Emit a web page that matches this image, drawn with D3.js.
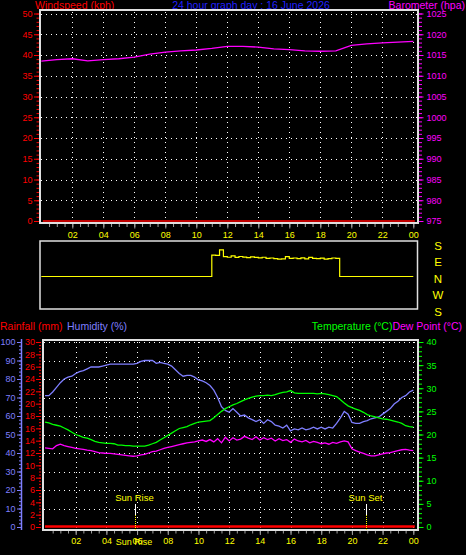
<!DOCTYPE html>
<html><head><meta charset="utf-8">
<script src="https://cdn.jsdelivr.net/npm/d3@7"></script>
<style>
body{margin:0;background:#000}
svg{display:block;background:#000}
text{font-family:"Liberation Sans",Arial,sans-serif}
</style>
</head><body>
<svg id="c" width="466" height="555"></svg>
<script>
// ---------- DATA ----------
const hours = d3.range(0, 24.001, 0.25); // 15-minute samples, 00:00 .. 24:00
const humidity = [
71,71,73,75.5,78, 80,81,81.5,83,84, 84.5,85.5,86.5,86.5,86.5, 87,87.5,88,88,88,
88,88,88,88,88.5, 89.5,90,90,90,88.5, 89,88.5,88,87,85, 83,81.5,82,82,81,
79.5,79,78,76.5,74, 70,65,63,62,64, 62,60,60.5,59,58, 57,58,56,58,57,
55,54.5,53.5,55,52, 53,52.5,53.5,52.5,53, 54,53,54,53,54, 53.5,56,59,62.5,61,
56.5,56,56,57,57.5, 58.5,59,59.5,61,62.5, 64,66.5,68,70,71, 73,74];
const temperature = [
22.7,22.5,22.2,22.0,21.8, 21.4,21.0,20.5,20.0,19.7, 19.4,19.2,18.9,18.5,18.3, 18.2,18.1,18.1,18.0,17.7,
17.7,17.6,17.6,17.5,17.5, 17.5,17.5,17.7,18.0,18.3, 18.8,19.3,19.8,20.3,20.8, 21.3,21.5,21.7,22.1,22.4,
22.7,22.8,22.9,23.0,23.6, 24.3,25.0,25.6,26.0,26.4, 26.7,27.1,27.5,27.8,28.1, 28.3,28.4,28.4,28.5,28.4,
28.6,28.9,29.1,29.2,29.5, 29.0,28.9,28.9,28.9,28.9, 28.9,28.8,28.9,28.8,28.6, 28.4,28.2,27.5,26.8,26.2,
25.8,25.5,25.2,24.8,24.3, 24.0,23.8,23.6,23.4,23.3, 23.1,22.9,22.7,22.4,21.9, 21.7,21.6];
const dewPoint = [
17.1,17.0,16.9,17.6,17.9, 17.6,17.4,17.2,17.0,16.9, 16.8,16.6,16.5,16.3,16.1, 16.0,15.9,15.9,15.8,15.7,
15.6,15.5,15.4,15.3,15.4, 15.6,15.7,16.0,16.3,16.4, 16.7,17.0,17.2,17.4,17.6, 17.8,18.0,18.2,18.3,18.4,
18.6,18.8,18.5,18.9,18.4, 19.1,18.2,19.4,18.6,19.3, 18.8,19.0,19.6,19.2,18.9, 19.5,18.8,19.3,18.9,19.2,
18.6,19.1,18.7,18.9,18.3, 19.0,18.6,18.4,18.7,18.2, 18.5,18.3,18.0,18.2,17.9, 18.3,18.1,18.4,18.6,18.4,
16.9,16.5,16.2,15.9,15.6, 15.4,15.4,15.6,15.8,16.0, 16.1,16.3,16.5,16.7,16.8, 16.6,16.5];
// wind direction in degrees (0 = N, 90 = E, 180 = S, -90 = W)
const windDir = [
0,0,0,0,0, 0,0,0,0,0, 0,0,0,0,0, 0,0,0,0,0,
0,0,0,0,0, 0,0,0,0,0, 0,0,0,0,0, 0,0,0,0,0,
0,0,0,0,117, 115,145,108,105,112, 104,109,106,103,107, 104,102,105,99,101,
97,95,96,108,99, 101,98,102,96,104, 99,97,100,95,97, 101,99,0,0,0,
0,0,0,0,0, 0,0,0,0,0, 0,0,0,0,0, 0,0];
const baroHours = [0,1,2,3,4,5,6,7,8,9,10,11,12,13,14,15,16,17,18,19,20,21,22,23,24];
const barometer = [1013.5,1013.9,1014.1,1013.6,1013.9,1014.1,1014.5,1015.2,1015.7,1016.0,1016.2,1016.6,
  1017.1,1017.1,1016.9,1016.5,1016.3,1016.0,1015.9,1016.0,1017.3,1017.7,1017.9,1018.1,1018.3];
const windHours = [0.1, 24.1];
const windSpeed = [0, 0];
const rainHours = [0, 24.1];
const rainfall = [0, 0];
const xTickHours = [2,4,6,8,10,12,14,16,18,20,22,24];
const xTickLabels = ["02","04","06","08","10","12","14","16","18","20","22","00"];
const dirValues = [180, 90, 0, -90, -180];
const dirLabels = ["S","E","N","W","S"];
const sunRise = 5.85, sunSet = 20.95;

// ---------- SETUP ----------
const svg = d3.select("#c");
const RED="#ff0000", MAG="#ff00ff", GRN="#00ff00", YEL="#ffff00", HUM="#7f7fff", BLUE="#2020ff", BORDER="#e0e0e0", TICK="#a0a0a0";
const FS = "9px";

// Top chart scales
const xTop = d3.scaleLinear([0,24],[41.3,413.3]);
const yWind = d3.scaleLinear([0,50],[221,13.5]);
const yBaro = d3.scaleLinear([975,1025],[221,13.5]);
// Wind direction scale
const yDir = d3.scaleLinear([180,-180],[243.5,309.5]);
// Bottom chart scales
const xBot = d3.scaleLinear([0,24],[45,413.3]);
const yHum = d3.scaleLinear([0,100],[527,342]);
const yRain = d3.scaleLinear([0,30],[527,342]);
const yTemp = d3.scaleLinear([0,40],[527,342]);

function styleAxis(g, color, fs){
  g.select(".domain").remove();
  g.selectAll(".tick line").attr("stroke", color);
  g.selectAll("text").attr("fill", color).style("font-size", fs||FS);
}

// ---------- TITLES ----------
svg.append("text").attr("x",35).attr("y",8.5).attr("fill",RED).style("font-size","10.5px").text("Windspeed (kph)");
svg.append("text").attr("x",251).attr("y",8.5).attr("text-anchor","middle").attr("fill",BLUE).style("font-size","10.5px").text("24 hour graph day : 16 June 2026");
svg.append("text").attr("x",465).attr("y",8.5).attr("text-anchor","end").attr("fill",MAG).style("font-size","10.5px").text("Barometer (hpa)");

// ---------- TOP CHART ----------
const topG = svg.append("g");
// grid
topG.selectAll(".hg").data(d3.range(5,51,5)).join("line")
  .attr("x1",41).attr("x2",417).attr("y1",d=>Math.round(yWind(d))+0.5).attr("y2",d=>Math.round(yWind(d))+0.5)
  .attr("stroke","#fff").attr("stroke-dasharray","1,4");
topG.selectAll(".vg").data(xTickHours).join("line")
  .attr("x1",d=>Math.round(xTop(d))+0.5).attr("x2",d=>Math.round(xTop(d))+0.5).attr("y1",12).attr("y2",222)
  .attr("stroke","#fff").attr("stroke-dasharray","1,4");
// border
topG.append("rect").attr("x",40).attr("y",10).attr("width",378).attr("height",213)
  .attr("fill","none").attr("stroke",BORDER).attr("stroke-width",2);
// left axis windspeed
topG.append("g").attr("transform","translate(39,0)")
  .call(d3.axisLeft(yWind).tickValues(d3.range(0,51,1)).tickSize(2.5).tickFormat(""))
  .call(g=>styleAxis(g,RED));
topG.append("g").attr("transform","translate(39,0)")
  .call(d3.axisLeft(yWind).tickValues(d3.range(0,51,5)).tickSize(5).tickPadding(1.5))
  .call(g=>styleAxis(g,RED));
// right axis barometer
topG.append("g").attr("transform","translate(419,0)")
  .call(d3.axisRight(yBaro).tickValues(d3.range(975,1026,1)).tickSize(3).tickFormat(""))
  .call(g=>styleAxis(g,MAG));
topG.append("g").attr("transform","translate(419,0)")
  .call(d3.axisRight(yBaro).tickValues(d3.range(975,1026,5)).tickSize(4.5).tickPadding(3).tickFormat(d3.format("d")))
  .call(g=>styleAxis(g,MAG));
// x axis
topG.append("g").attr("transform","translate(0,224)")
  .call(d3.axisBottom(xTop).tickValues(d3.range(0.5,24.01,0.5)).tickSize(3).tickFormat(""))
  .call(g=>styleAxis(g,TICK));
topG.append("g").attr("transform","translate(0,224)")
  .call(d3.axisBottom(xTop).tickValues(xTickHours).tickSize(4.5).tickPadding(3.5).tickFormat((d,i)=>xTickLabels[i]))
  .call(g=>{styleAxis(g,TICK); g.selectAll("text").attr("fill",YEL);});
// lines
topG.append("path").datum(windHours.map((h,i)=>[h,windSpeed[i]]))
  .attr("d",d3.line().x(d=>xTop(d[0])).y(d=>yWind(d[1])))
  .attr("fill","none").attr("stroke",RED).attr("stroke-width",1.5);
topG.append("path").datum(baroHours.map((h,i)=>[h,barometer[i]]))
  .attr("d",d3.line().x(d=>xTop(d[0])).y(d=>yBaro(d[1])))
  .attr("fill","none").attr("stroke",MAG).attr("stroke-width",1.3);

// ---------- WIND DIRECTION ----------
const midG = svg.append("g");
midG.append("rect").attr("x",40).attr("y",241).attr("width",377.5).attr("height",68)
  .attr("fill","none").attr("stroke",BORDER).attr("stroke-width",1.5);
midG.append("path").datum(hours.map((h,i)=>[h,windDir[i]]))
  .attr("d",d3.line().curve(d3.curveStepAfter).x(d=>xTop(d[0])).y(d=>yDir(d[1])))
  .attr("fill","none").attr("stroke",YEL).attr("stroke-width",1.2);
midG.selectAll(".dl").data(dirValues).join("text")
  .attr("x",438).attr("y",d=>yDir(d)+6).attr("text-anchor","middle")
  .attr("fill",YEL).style("font-size","11.5px").text((d,i)=>dirLabels[i]);

// ---------- BOTTOM CHART ----------
const botG = svg.append("g");
svg.append("text").attr("x",0).attr("y",330).attr("fill",RED).style("font-size","10.5px").text("Rainfall (mm)");
svg.append("text").attr("x",67).attr("y",330).attr("fill",HUM).style("font-size","10.5px").text("Humidity (%)");
const tt = svg.append("text").attr("x",462).attr("y",330).attr("text-anchor","end").style("font-size","10.5px");
tt.append("tspan").attr("fill",GRN).text("Temperature (°C)");
tt.append("tspan").attr("fill",MAG).text("Dew Point (°C)");

// grid
botG.selectAll(".hg").data(d3.range(10,101,10)).join("line")
  .attr("x1",44).attr("x2",417).attr("y1",d=>Math.round(yHum(d))+0.5).attr("y2",d=>Math.round(yHum(d))+0.5)
  .attr("stroke","#fff").attr("stroke-dasharray","1,4");
botG.selectAll(".vg").data(xTickHours).join("line")
  .attr("x1",d=>Math.round(xBot(d))+0.5).attr("x2",d=>Math.round(xBot(d))+0.5).attr("y1",342).attr("y2",529)
  .attr("stroke","#fff").attr("stroke-dasharray","1,4");
// border
botG.append("rect").attr("x",43).attr("y",340).attr("width",375).attr("height",190)
  .attr("fill","none").attr("stroke",BORDER).attr("stroke-width",2);
// humidity axis
botG.append("line").attr("x1",21.5).attr("x2",21.5).attr("y1",339).attr("y2",530).attr("stroke",HUM).attr("stroke-width",1.5);
botG.append("g").attr("transform","translate(21,0)")
  .call(d3.axisLeft(yHum).tickValues(d3.range(0,101,2)).tickSize(2).tickFormat(""))
  .call(g=>styleAxis(g,HUM));
botG.append("g").attr("transform","translate(21,0)")
  .call(d3.axisLeft(yHum).tickValues(d3.range(0,101,10)).tickSize(4).tickPadding(1.5))
  .call(g=>styleAxis(g,HUM));
// rainfall axis
botG.append("g").attr("transform","translate(41,0)")
  .call(d3.axisLeft(yRain).tickValues(d3.range(0,30.01,0.5)).tickSize(2).tickFormat(""))
  .call(g=>styleAxis(g,RED));
botG.append("g").attr("transform","translate(41,0)")
  .call(d3.axisLeft(yRain).tickValues(d3.range(0,31,2)).tickSize(5).tickPadding(1))
  .call(g=>styleAxis(g,RED));
// temperature axis
botG.append("g").attr("transform","translate(419,0)")
  .call(d3.axisRight(yTemp).tickValues(d3.range(0,41,1)).tickSize(3).tickFormat(""))
  .call(g=>styleAxis(g,GRN));
botG.append("g").attr("transform","translate(419,0)")
  .call(d3.axisRight(yTemp).tickValues(d3.range(0,41,5)).tickSize(4.5).tickPadding(3))
  .call(g=>styleAxis(g,GRN));
// x axis
botG.append("g").attr("transform","translate(0,531)")
  .call(d3.axisBottom(xBot).tickValues(d3.range(0.5,24.01,0.5)).tickSize(2.5).tickFormat(""))
  .call(g=>styleAxis(g,TICK));
botG.append("g").attr("transform","translate(0,531)")
  .call(d3.axisBottom(xBot).tickValues(xTickHours).tickSize(4).tickPadding(3).tickFormat((d,i)=>xTickLabels[i]))
  .call(g=>{styleAxis(g,TICK); g.selectAll("text").attr("fill",YEL);});
// series
const lineB = (arr, y) => d3.line().x((d,i)=>xBot(hours[i])).y(d=>y(d))(arr);
botG.append("path").attr("d",lineB(humidity,yHum)).attr("fill","none").attr("stroke",HUM).attr("stroke-width",1.3);
botG.append("path").attr("d",lineB(temperature,yTemp)).attr("fill","none").attr("stroke",GRN).attr("stroke-width",1.3);
botG.append("path").attr("d",lineB(dewPoint,yTemp)).attr("fill","none").attr("stroke",MAG).attr("stroke-width",1.3);
botG.append("path").datum(rainHours.map((h,i)=>[h,rainfall[i]]))
  .attr("d",d3.line().x(d=>xBot(d[0])).y(d=>yRain(d[1])-0.5))
  .attr("fill","none").attr("stroke",RED).attr("stroke-width",2.5);
// sun rise / set
[[sunRise,"Sun Rise"],[sunSet,"Sun Set"]].forEach(([h,lab])=>{
  const x = Math.round(xBot(h))+0.5;
  botG.append("line").attr("x1",x).attr("x2",x).attr("y1",504).attr("y2",515).attr("stroke","#fff").attr("stroke-width",1);
  botG.append("line").attr("x1",x).attr("x2",x).attr("y1",515).attr("y2",530).attr("stroke",YEL).attr("stroke-width",1).attr("stroke-dasharray","1,1");
  botG.append("text").attr("x",x-1).attr("y",501).attr("text-anchor","middle").attr("fill",YEL).style("font-size","9.5px").text(lab);
});
botG.append("text").attr("x",Math.round(xBot(sunRise))-1).attr("y",544.5).attr("text-anchor","middle").attr("fill",YEL).style("font-size","9px").text("Sun Rise");
</script>
</body></html>
